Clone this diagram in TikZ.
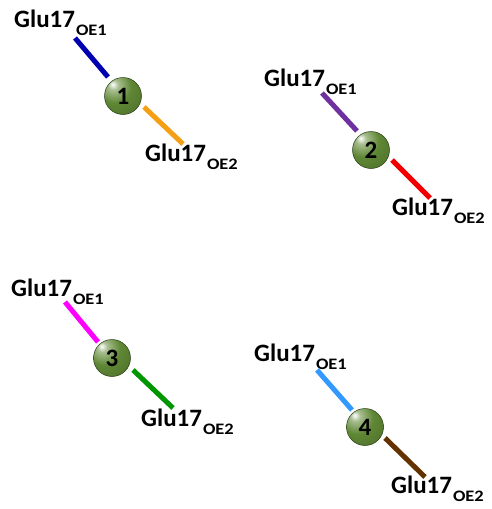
\documentclass[tikz,border=0pt]{standalone}
\usepackage{fontspec}
\setmainfont{Carlito}

% bond colours
\definecolor{bondblue}{RGB}{0,0,176}
\definecolor{bondorange}{RGB}{245,160,20}
\definecolor{bondpurple}{RGB}{112,48,160}
\definecolor{bondred}{RGB}{240,0,0}
\definecolor{bondmagenta}{RGB}{255,0,255}
\definecolor{bondgreen}{RGB}{0,150,0}
\definecolor{bondsky}{RGB}{51,153,255}
\definecolor{bondbrown}{RGB}{100,50,0}
\definecolor{ionfill}{RGB}{95,135,52}
\definecolor{ionedge}{RGB}{40,62,22}

% glossy sphere for the ions
\pgfdeclareradialshading{ionsphere}{\pgfpoint{-14bp}{16bp}}{%
  color(0bp)=(white);
  color(7bp)=(ionfill!55!white);
  color(22bp)=(ionfill);
  color(48bp)=(ionfill!80!black);
  color(66bp)=(ionfill!50!black);
  color(100bp)=(ionfill!50!black)}

\newcommand{\glulabel}[1]{\fontsize{25}{25}\selectfont\bfseries Glu17\kern1pt\raisebox{-8.5pt}{\scalebox{1.15}[1]{\fontsize{16}{16}\selectfont\bfseries #1}}}

\tikzset{
  ion/.style={circle, minimum size=37pt, inner sep=0pt, shading=ionsphere,
              draw=ionedge, line width=0.5pt,
              font=\fontsize{25}{25}\selectfont\bfseries},
  atomlabel/.style={anchor=base west, inner sep=0pt},
  bond/.style={line width=5pt}
}

\begin{document}
\begin{tikzpicture}[x=1pt, y=-1pt]
\useasboundingbox (0,0) rectangle (491,509);

% site 1
\node[ion] (b1) at (123,96) {1};
\node[atomlabel] (l1a) at (14,27) {\glulabel{OE1}};
\node[atomlabel] (l1b) at (145,161) {\glulabel{OE2}};
\coordinate (p1a) at (75,38);  \coordinate (q1a) at (108,77);
\coordinate (p1b) at (144,107); \coordinate (q1b) at (183,144);
\draw[bond, bondblue] (p1a) -- (q1a);
\draw[bond, bondorange] (p1b) -- (q1b);

% site 2
\node[ion] (b2) at (371,150) {2};
\node[atomlabel] (l2a) at (264,86) {\glulabel{OE1}};
\node[atomlabel] (l2b) at (392,215) {\glulabel{OE2}};
\coordinate (p2a) at (322,93);  \coordinate (q2a) at (357,131);
\coordinate (p2b) at (392,160); \coordinate (q2b) at (430,198);
\draw[bond, bondpurple] (p2a) -- (q2a);
\draw[bond, bondred] (p2b) -- (q2b);

% site 3
\node[ion] (b3) at (112,358) {3};
\node[atomlabel] (l3a) at (11,296) {\glulabel{OE1}};
\node[atomlabel] (l3b) at (141,426) {\glulabel{OE2}};
\coordinate (p3a) at (65,302);  \coordinate (q3a) at (98,342);
\coordinate (p3b) at (133,370); \coordinate (q3b) at (173,408);
\draw[bond, bondmagenta] (p3a) -- (q3a);
\draw[bond, bondgreen] (p3b) -- (q3b);

% site 4
\node[ion] (b4) at (365,427) {4};
\node[atomlabel] (l4a) at (254,361) {\glulabel{OE1}};
\node[atomlabel] (l4b) at (391,493) {\glulabel{OE2}};
\coordinate (p4a) at (317,370); \coordinate (q4a) at (352,410);
\coordinate (p4b) at (385,438); \coordinate (q4b) at (425,477);
\draw[bond, bondsky] (p4a) -- (q4a);
\draw[bond, bondbrown] (p4b) -- (q4b);
\end{tikzpicture}
\end{document}
